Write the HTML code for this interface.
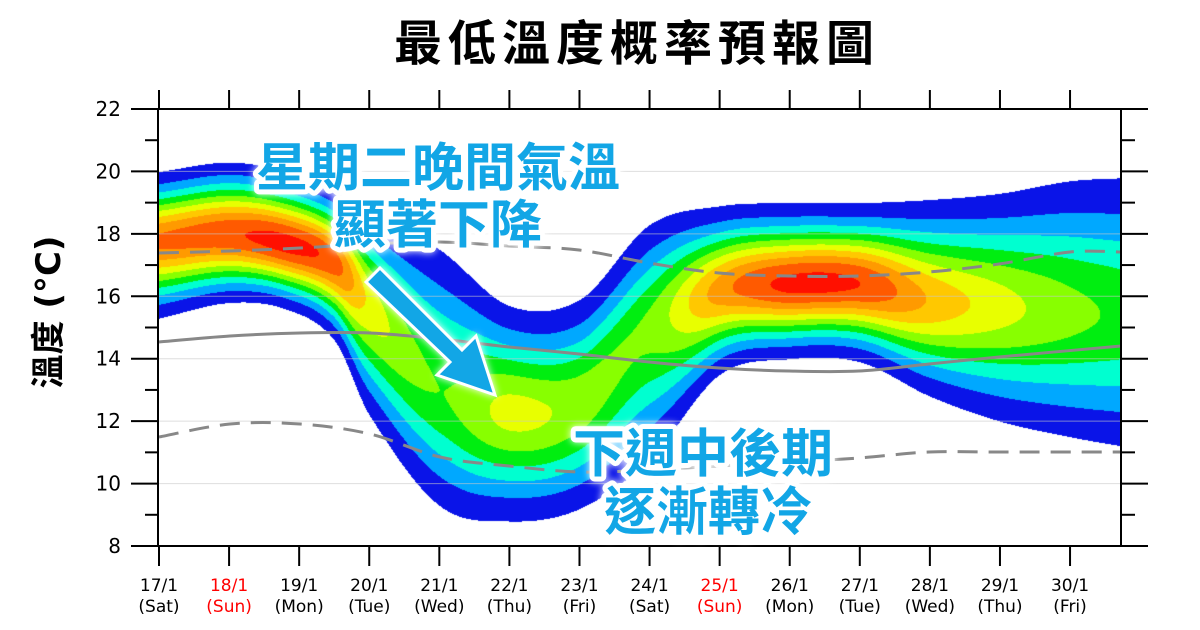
<!DOCTYPE html>
<html><head><meta charset="utf-8"><style>
html,body{margin:0;padding:0;background:#fff;width:1200px;height:630px;overflow:hidden}
#c{position:absolute;left:159px;top:109px}
svg{position:absolute;left:0;top:0}
</style></head><body>
<canvas id="c" width="962" height="437"></canvas>
<svg id="s" width="1200" height="630" xmlns="http://www.w3.org/2000/svg" font-family="'DejaVu Sans','Noto Sans CJK TC',sans-serif">
<text x="637" y="60" text-anchor="middle" font-size="48" font-weight="bold" letter-spacing="6" font-family="'Liberation Sans','Noto Sans CJK TC',sans-serif">最低溫度概率預報圖</text>
<text transform="translate(60,312) rotate(-90)" text-anchor="middle" font-size="34" font-weight="bold">溫度 (°C)</text>
<g id="grid"></g>
<g id="lines" fill="none" stroke="#888" stroke-width="3"></g>
<g id="axes" stroke="#000" stroke-width="2"></g>
<g id="labs"></g>
<g font-size="52" font-weight="bold" fill="#12a6e6" stroke="#fff" stroke-width="10" stroke-linejoin="round" paint-order="stroke" text-anchor="middle" font-family="'Liberation Sans','Noto Sans CJK TC',sans-serif" style="filter:drop-shadow(0 0 4px #fff)">
<text x="438" y="186">星期二晚間氣溫</text>
<text x="438" y="243">顯著下降</text>
<text x="703" y="472">下週中後期</text>
<text x="708" y="530">逐漸轉冷</text>
</g>
<g style="filter:drop-shadow(0 0 4px #fff)">
<polygon points="366,282 380,268 462,350 476,336 495,395 437,375 450,362" fill="#12a6e6" stroke="#fff" stroke-width="3"/>
</g>
</svg>
<script>
(function(){
var X0=159,DX=70.08,Y0=109,DY=31.214;
function yT(t){return Y0+(22-t)*DY}
function xd(d){return X0+DX*d}
var K=[[0,20.0,15.3,17.8,0.82],[1,20.3,15.8,18.0,0.88],[1.8,20.0,15.6,17.7,0.94],[2.5,19.4,14.6,17.1,0.85],
[3,18.6,12.2,15.8,0.6],[4,17.5,9.3,13.0,0.44],[5,15.7,8.8,12.3,0.56],[6,15.9,9.2,12.6,0.5],[7,18.3,10.8,15.0,0.47],
[8,18.9,13.5,16.2,0.76],[9,19.0,14.0,16.4,0.93],[10,19.0,13.9,16.4,0.9],[11,19.1,12.8,15.9,0.7],[12,19.3,12.0,15.7,0.57],[13,19.7,11.5,15.5,0.47],[13.75,19.8,11.2,15.4,0.42]];
function interp(d,i){
 var n=K.length;if(d<=K[0][0])return K[0][i];if(d>=K[n-1][0])return K[n-1][i];
 for(var k=0;k<n-1;k++){if(d<=K[k+1][0]){var a=K[Math.max(k-1,0)],b=K[k],c=K[k+1],e=K[Math.min(k+2,n-1)];
 var t=(d-b[0])/(c[0]-b[0]);var m1=(c[i]-a[i])/Math.max(c[0]-a[0],1e-6)*(c[0]-b[0]);var m2=(e[i]-b[i])/Math.max(e[0]-b[0],1e-6)*(c[0]-b[0]);
 var t2=t*t,t3=t2*t;return (2*t3-3*t2+1)*b[i]+(t3-2*t2+t)*m1+(-2*t3+3*t2)*c[i]+(t3-t2)*m2;}}
}
var cols=['#0a14e8','#00a8ff','#00ffd0','#00ee10','#88ff00','#e8ff00','#ffc800','#ff9a00','#ff5a00','#ff1000'];
var th=[0.08,0.17,0.26,0.35,0.44,0.53,0.62,0.71,0.80,0.90];
var cv=document.getElementById('c'),ctx=cv.getContext('2d');
var W=962,H=437,img=ctx.createImageData(W,H);
var rgb=cols.map(function(h){return[parseInt(h.substr(1,2),16),parseInt(h.substr(3,2),16),parseInt(h.substr(5,2),16)]});
for(var px=0;px<W;px++){
 var d=px/DX;var tp=interp(d,1),bt=interp(d,2),cc=interp(d,3),A=interp(d,4);
 var L=Math.sqrt(2*Math.log(A/0.08));var su=(tp-cc)/L,sd=(cc-bt)/L;
 for(var py=0;py<H;py++){
  var T=22-py/DY;var sg=T>cc?su:sd;var p=A*Math.exp(-(T-cc)*(T-cc)/(2*sg*sg));
  var k=-1;for(var j=0;j<10;j++)if(p>=th[j])k=j;
  var o=(py*W+px)*4;
  if(k<0){img.data[o+3]=0;}
  else{img.data[o]=rgb[k][0];img.data[o+1]=rgb[k][1];img.data[o+2]=rgb[k][2];img.data[o+3]=255;}
 }
}
ctx.putImageData(img,0,0);
var NS='http://www.w3.org/2000/svg';
function el(g,t,a,txt){var e=document.createElementNS(NS,t);for(var k in a)e.setAttribute(k,a[k]);if(txt!=null)e.textContent=txt;document.getElementById(g).appendChild(e);return e}
for(var t=8;t<=22;t+=2){el('grid','line',{x1:159,x2:1121,y1:yT(t),y2:yT(t),stroke:'rgba(200,200,200,0.6)','stroke-width':1})}
function smooth(pts){var s='M'+pts[0][0]+','+pts[0][1];for(var i=0;i<pts.length-1;i++){var a=pts[Math.max(i-1,0)],b=pts[i],c=pts[i+1],e=pts[Math.min(i+2,pts.length-1)];
s+=' C'+(b[0]+(c[0]-a[0])/6)+','+(b[1]+(c[1]-a[1])/6)+' '+(c[0]-(e[0]-b[0])/6)+','+(c[1]-(e[1]-b[1])/6)+' '+c[0]+','+c[1];}return s}
el('lines','path',{d:smooth([[159,342],[230,336],[300,333],[370,333],[440,339],[509,347],[579,354],[649,362],[719,368],[789,371],[859,371],[929,364],[999,357],[1121,346]])});
el('lines','path',{d:smooth([[159,253],[230,251],[300,248],[370,244],[440,242],[509,246],[579,250],[649,263],[719,273],[789,276],[859,276],[929,272],[999,264],[1070,252],[1121,252]]),'stroke-dasharray':'20 11'});
el('lines','path',{d:smooth([[159,437],[230,424],[300,424],[370,434],[440,457],[509,466],[579,472],[649,470],[719,466],[789,462],[859,458],[929,452],[999,452],[1121,452]]),'stroke-dasharray':'20 11'});
el('axes','line',{x1:158,x2:158,y1:109,y2:546});el('axes','line',{x1:1121,x2:1121,y1:109,y2:546});
el('axes','line',{x1:131,x2:1148,y1:109,y2:109});el('axes','line',{x1:131,x2:1148,y1:546,y2:546});
for(var t=8;t<=22;t++){var y=yT(t);var maj=t%2==0;el('axes','line',{x1:maj?131:145,x2:158,y1:y,y2:y});el('axes','line',{x1:1121,x2:maj?1148:1135,y1:y,y2:y});
 if(maj)el('labs','text',{x:121,y:y+7,'text-anchor':'end','font-size':'20'},String(t));}
var days=['Sat','Sun','Mon','Tue','Wed','Thu','Fri','Sat','Sun','Mon','Tue','Wed','Thu','Fri'];
for(var i=0;i<14;i++){var x=xd(i);el('axes','line',{x1:x,x2:x,y1:546,y2:566});el('axes','line',{x1:x,x2:x,y1:90,y2:109});
 var red=(i==1||i==8);var f=red?'#f00':'#000';
 el('labs','text',{x:x,y:591,'text-anchor':'middle','font-size':'17',fill:f},(17+i)+'/1');
 el('labs','text',{x:x,y:612,'text-anchor':'middle','font-size':'17',fill:f},'('+days[i]+')');}
})();
</script>
</body></html>
